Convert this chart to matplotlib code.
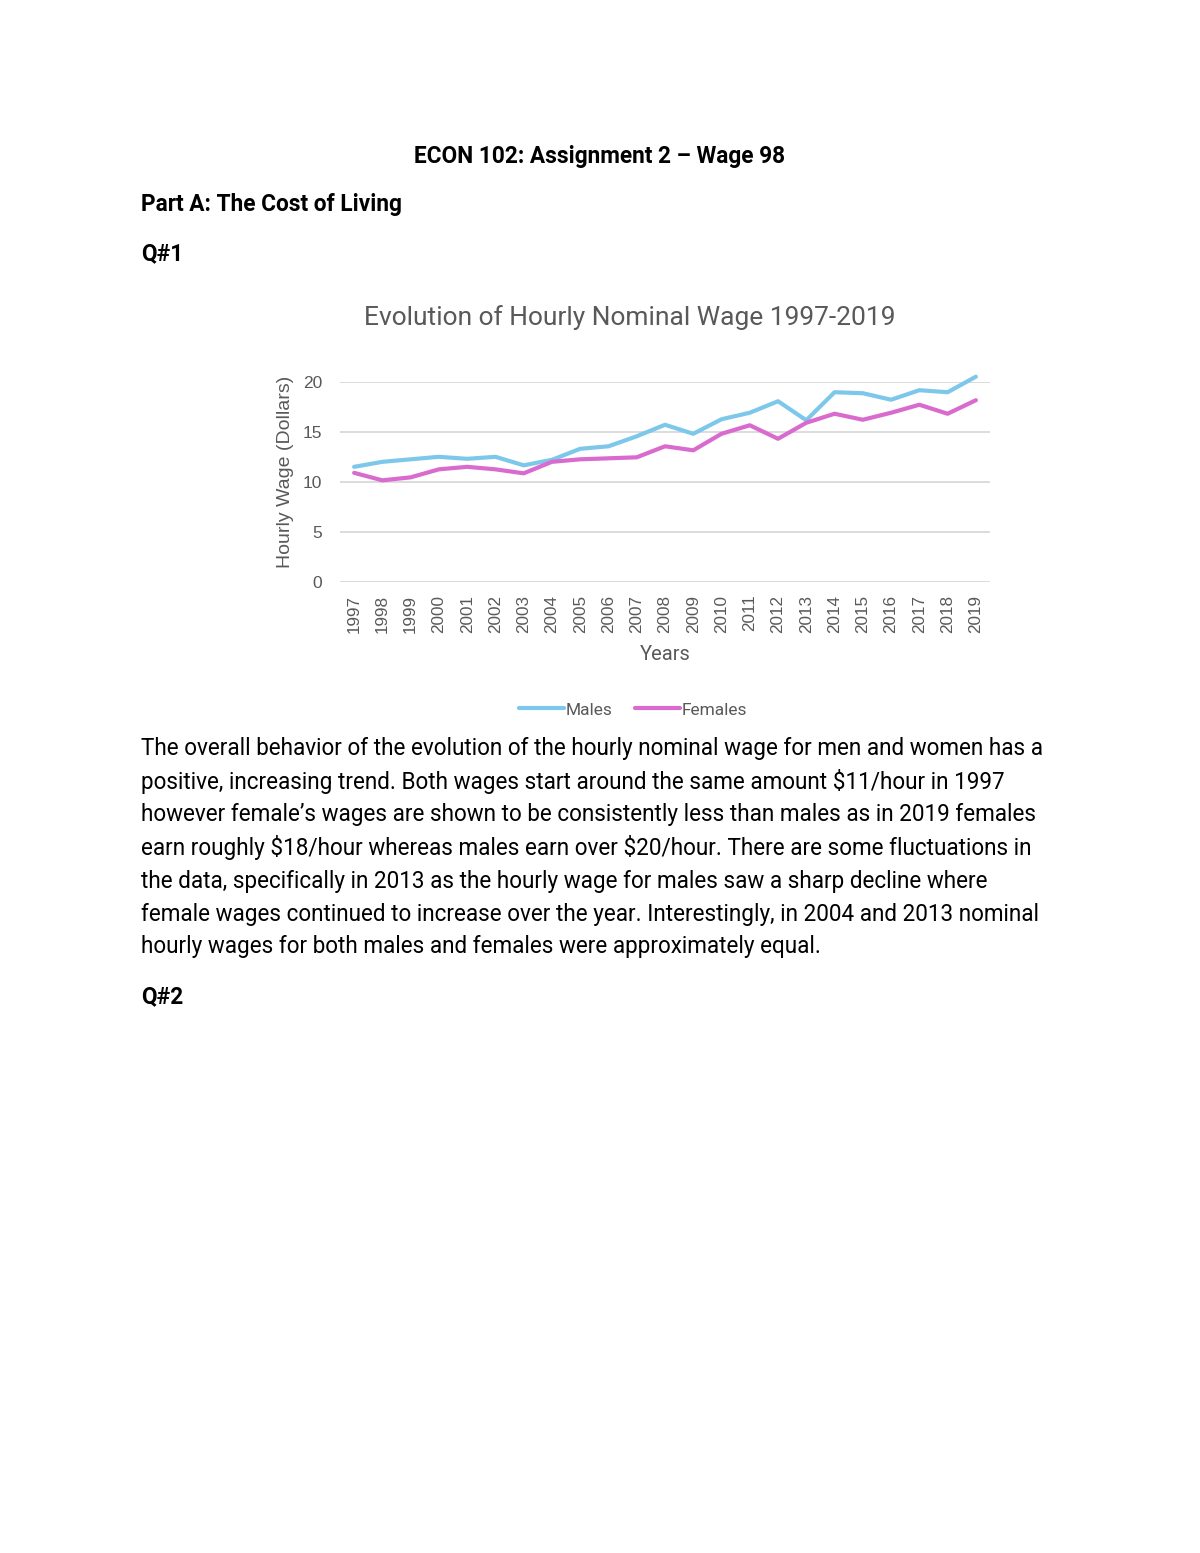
import matplotlib
matplotlib.use("Agg")
import matplotlib.pyplot as plt
from matplotlib import font_manager as fm

years = [str(y) for y in range(1997, 2020)]
males = [11.5, 12.0, 12.25, 12.5, 12.3, 12.5, 11.65, 12.2, 13.3, 13.55, 14.55, 15.7,
         14.8, 16.25, 16.9, 18.05, 16.15, 18.95, 18.85, 18.2, 19.15, 18.95, 20.5]
females = [10.9, 10.15, 10.45, 11.25, 11.5, 11.25, 10.85, 12.0, 12.25, 12.35, 12.45, 13.55,
           13.15, 14.8, 15.65, 14.3, 15.9, 16.8, 16.2, 16.9, 17.7, 16.8, 18.15]
y_ticks = [0, 5, 10, 15, 20]

W, H = 1200, 1553
fig = plt.figure(figsize=(W / 100, H / 100), dpi=100)

names = {f.name for f in fm.fontManager.ttflist}
narrow = 'Liberation Sans Narrow' if 'Liberation Sans Narrow' in names else 'Roboto'
body = 'Roboto'


def fx(x):
    return x / W


def fy(y):
    return 1 - y / H


grey = '#595959'
ax = fig.add_axes([fx(340), fy(582), fx(990) - fx(340), fy(381.7) - fy(582)])
x = list(range(len(years)))
ax.plot(x, males, color='#7DC8EA', lw=3.0, solid_capstyle='round', label='Males', clip_on=False)
ax.plot(x, females, color='#D96BCE', lw=3.0, solid_capstyle='round', label='Females', clip_on=False)
ax.set_xlim(-0.5, len(years) - 0.5)
ax.set_ylim(0, 20)
ax.set_yticks(y_ticks)
ax.set_xticks(x)
ax.set_xticklabels(years, rotation=90, fontsize=12.3, color=grey, family='Liberation Sans')
ax.set_yticklabels([str(v) for v in y_ticks], fontsize=12.5, color=grey, family='Liberation Sans')
ax.tick_params(axis='both', length=0)
ax.tick_params(axis='y', pad=13)
ax.tick_params(axis='x', pad=9)
for s in ax.spines.values():
    s.set_visible(False)
ax.grid(axis='y', color='#d9d9d9', lw=1.3)
ax.set_axisbelow(True)

fig.text(fx(630), fy(318), 'Evolution of Hourly Nominal Wage 1997-2019', ha='center', va='center',
         fontsize=19, color=grey, family=narrow)
fig.text(fx(286), fy(472), 'Hourly Wage (Dollars)', ha='center', va='center', rotation=90,
         fontsize=14, color=grey, family='Liberation Sans')
fig.text(fx(665), fy(654), 'Years', ha='center', va='center', fontsize=14.5, color=grey, family=narrow)
fig.legend(loc='center', bbox_to_anchor=(fx(633), fy(710)), ncol=2, frameon=False,
           prop={'family': narrow, 'size': 12.5}, labelcolor=grey, handlelength=2.6,
           handletextpad=0.1, columnspacing=1.3)

hsize = 16.3
fig.text(fx(600), fy(156), 'ECON 102: Assignment 2 \u2013 Wage 98', ha='center', va='center',
         fontsize=hsize, fontweight='bold', family=body)
fig.text(fx(141), fy(205), 'Part A: The Cost of Living', ha='left', va='center',
         fontsize=hsize, fontweight='bold', family=body)
fig.text(fx(141), fy(254), 'Q#1', ha='left', va='center', fontsize=hsize, fontweight='bold', family=body)
fig.text(fx(141), fy(997), 'Q#2', ha='left', va='center', fontsize=hsize, fontweight='bold', family=body)

lines = [
    "The overall behavior of the evolution of the hourly nominal wage for men and women has a",
    "positive, increasing trend. Both wages start around the same amount \\$11/hour in 1997",
    "however female\u2019s wages are shown to be consistently less than males as in 2019 females",
    "earn roughly \\$18/hour whereas males earn over \\$20/hour. There are some fluctuations in",
    "the data, specifically in 2013 as the hourly wage for males saw a sharp decline where",
    "female wages continued to increase over the year. Interestingly, in 2004 and 2013 nominal",
    "hourly wages for both males and females were approximately equal.",
]
ys = [748, 781, 814, 848, 881, 914, 947]
texts = [fig.text(fx(141), fy(yy), t, ha='left', va='center', fontsize=15, family=body)
         for t, yy in zip(lines, ys)]
fig.canvas.draw()
r = fig.canvas.get_renderer()
w0 = texts[0].get_window_extent(r).width
size = 15 * 905 / w0
for t in texts:
    t.set_fontsize(size)

fig.savefig('out.png', dpi=100)
